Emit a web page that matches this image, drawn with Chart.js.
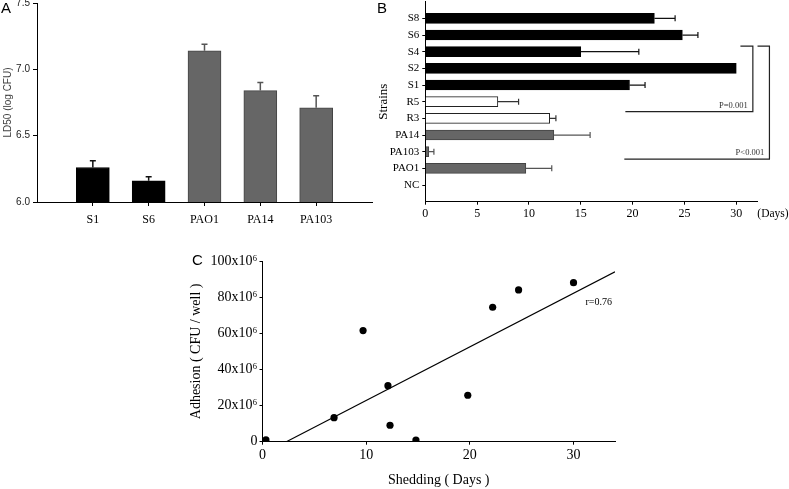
<!DOCTYPE html>
<html><head><meta charset="utf-8">
<script src="https://cdn.jsdelivr.net/npm/chart.js@4.4.1/dist/chart.umd.min.js"></script>
<style>
html,body{margin:0;padding:0;background:#fff;overflow:hidden;width:789px;height:489px;position:relative;}
canvas{position:absolute;display:block;}
.lt{position:absolute;font-family:'Liberation Sans',Arial,sans-serif;font-size:15px;line-height:15px;color:#000;}
</style></head><body>
<canvas id="cA" width="385" height="235" style="left:0;top:0;width:385px;height:235px"></canvas>
<canvas id="cB" width="419" height="235" style="left:370px;top:0;width:419px;height:235px"></canvas>
<canvas id="cC" width="460" height="254" style="left:180px;top:235px;width:460px;height:254px"></canvas>
<div class="lt" style="left:1px;top:0px">A</div>
<div class="lt" style="left:377px;top:0px">B</div>
<div class="lt" style="left:192px;top:252px">C</div>
<script>
// ---------- Panel A data ----------
const catA = ['S1', 'S6', 'PAO1', 'PA14', 'PA103'];
const valA = [6.26, 6.16, 7.14, 6.84, 6.71];
const errA = [0.05, 0.03, 0.05, 0.06, 0.09];
const groupA = ['S', 'S', 'PA', 'PA', 'PA'];
const tickLabelsA = ['6.0', '6.5', '7.0', '7.5'];

// ---------- Panel B data ----------
const catB = ['S8', 'S6', 'S4', 'S2', 'S1', 'R5', 'R3', 'PA14', 'PA103', 'PAO1', 'NC'];
const valB = [22.1, 24.8, 15.0, 30.0, 19.7, 7.0, 12.0, 12.4, 0.33, 9.7, 0];
const errB = [2.0, 1.5, 5.6, 0, 1.5, 2.0, 0.6, 3.5, 0.5, 2.5, 0];
const groupB = ['S', 'S', 'S', 'S', 'S', 'R', 'R', 'PA', 'PA', 'PA', 'NC'];
const tickLabelsB = ['0', '5', '10', '15', '20', '25', '30'];

// ---------- Panel C data ----------
const shedC = [0.33, 6.9, 9.7, 12.1, 12.3, 14.8, 19.8, 22.2, 24.7, 30.0];
const adhC = [1.0e6, 13.3e6, 61.5e6, 31.0e6, 9.1e6, 0.9e6, 25.7e6, 74.4e6, 84.0e6, 88.0e6];
const fitX = [2.3, 34];
const fitY = [0, 94e6];
const tickLabelsCY = ['0', '20x10\u2076', '40x10\u2076', '60x10\u2076', '80x10\u2076', '100x10\u2076'];
const tickLabelsCX = ['0', '10', '20', '30'];

const fill = {S: '#000', R: '#fff', PA: '#666', NC: '#fff'};
const edge = {S: '#000', R: '#222', PA: '#444', NC: '#000'};
const errCol = {S: '#111', R: '#333', PA: '#555', NC: '#000'};

Chart.defaults.font.family = "'Liberation Serif','Times New Roman',serif";
Chart.defaults.color = '#000';
Chart.defaults.animation = false;
Chart.defaults.plugins.legend.display = false;
Chart.defaults.plugins.tooltip.enabled = false;

function fixBox(w, h) {
  return function (s) {
    if (w != null) s.width = w;
    if (h != null) s.height = h;
    s.paddingTop = 0; s.paddingBottom = 0; s.paddingLeft = 0; s.paddingRight = 0;
  };
}
function pad(arr, v) { return [v, ...arr, v]; }

function makeErr(errors, groups, cap, width) {
  return {
    id: 'errBars',
    afterDatasetsDraw(chart) {
      const meta = chart.getDatasetMeta(0);
      const horiz = chart.options.indexAxis === 'y';
      const vs = horiz ? chart.scales.x : chart.scales.y;
      const data = chart.data.datasets[0].data;
      const ctx = chart.ctx;
      ctx.save();
      ctx.lineWidth = width;
      errors.forEach((e, i) => {
        const el = meta.data[i + 1];
        const v = data[i + 1];
        if (!el || v == null || !e) return;
        const end = vs.getPixelForValue(v + e);
        ctx.strokeStyle = errCol[groups[i]];
        ctx.beginPath();
        if (horiz) {
          ctx.moveTo(el.x, el.y); ctx.lineTo(end, el.y);
          ctx.moveTo(end, el.y - cap); ctx.lineTo(end, el.y + cap);
        } else {
          ctx.moveTo(el.x, el.y); ctx.lineTo(el.x, end);
          ctx.moveTo(el.x - cap, end); ctx.lineTo(el.x + cap, end);
        }
        ctx.stroke();
      });
      ctx.restore();
    }
  };
}

const hideEnds = (n) => (c) => (c.index === 0 || c.index === n - 1) ? 'rgba(0,0,0,0)' : '#000';

// ---------- Chart A ----------
new Chart(document.getElementById('cA'), {
  type: 'bar',
  data: {
    labels: pad(catA, ''),
    datasets: [{
      data: pad(valA, null),
      backgroundColor: pad(groupA.map(g => fill[g]), '#000'),
      borderColor: pad(groupA.map(g => edge[g]), '#000'),
      borderWidth: 1,
      barThickness: 33
    }]
  },
  options: {
    responsive: false,
    layout: {padding: {left: 0, top: 3, right: 13, bottom: 0}},
    scales: {
      x: {
        type: 'category', offset: false,
        grid: {display: true, drawOnChartArea: false, offset: false, tickLength: 4, tickColor: hideEnds(catA.length + 2)},
        border: {display: true, color: '#000', width: 1},
        ticks: {font: {size: 12}, padding: 7, maxRotation: 0, autoSkip: false},
        afterFit: fixBox(null, 33)
      },
      y: {
        min: 6, max: 7.5,
        ticks: {stepSize: 0.5, callback: (v, i) => tickLabelsA[i], font: {family: "'Liberation Sans',Arial,sans-serif", size: 10}, color: '#222', padding: 3},
        grid: {drawOnChartArea: false, tickLength: 4, tickColor: '#000'},
        border: {display: true, color: '#000', width: 1},
        title: {display: true, text: 'LD50 (log CFU)', font: {family: "'Liberation Sans',Arial,sans-serif", size: 10}, color: '#444', padding: {top: 2, bottom: 0}},
        afterFit: fixBox(37, null)
      }
    }
  },
  plugins: [makeErr(errA, groupA, 3, 1.5)]
});

// ---------- Chart B ----------
const bracketsB = [
  {xTop: 30.4, xV: 31.6, yTop: 2.67, yBot: 6.6, xL: 19.3, text: 'P=0.001', tx: 31.1, ty: 6.6},
  {xTop: 32.05, xV: 33.2, yTop: 2.67, yBot: 9.44, xL: 19.2, text: 'P<0.001', tx: 32.7, ty: 9.44}
];
const annotB = {
  id: 'annotB',
  afterDraw(chart) {
    const x = chart.scales.x, y = chart.scales.y, ctx = chart.ctx, a = chart.chartArea;
    ctx.save();
    ctx.strokeStyle = '#222';
    ctx.lineWidth = 1.2;
    bracketsB.forEach(b => {
      ctx.beginPath();
      ctx.moveTo(x.getPixelForValue(b.xTop), y.getPixelForValue(b.yTop));
      ctx.lineTo(x.getPixelForValue(b.xV), y.getPixelForValue(b.yTop));
      ctx.lineTo(x.getPixelForValue(b.xV), y.getPixelForValue(b.yBot));
      ctx.lineTo(x.getPixelForValue(b.xL), y.getPixelForValue(b.yBot));
      ctx.stroke();
      ctx.fillStyle = '#333';
      ctx.font = "8.5px 'Liberation Serif','Times New Roman',serif";
      ctx.textAlign = 'right';
      ctx.textBaseline = 'bottom';
      ctx.fillText(b.text, x.getPixelForValue(b.tx), y.getPixelForValue(b.ty) - 2);
    });
    ctx.fillStyle = '#000';
    ctx.font = "11.5px 'Liberation Serif','Times New Roman',serif";
    ctx.textAlign = 'center';
    ctx.textBaseline = 'middle';
    ctx.fillText('(Days)', a.right + 16, a.bottom + 12);
    ctx.restore();
  }
};
new Chart(document.getElementById('cB'), {
  type: 'bar',
  data: {
    labels: pad(catB, ''),
    datasets: [{
      data: pad(valB, null),
      backgroundColor: pad(groupB.map(g => fill[g]), '#000'),
      borderColor: pad(groupB.map(g => edge[g]), '#000'),
      borderWidth: 1,
      barThickness: 10
    }]
  },
  options: {
    responsive: false,
    indexAxis: 'y',
    layout: {padding: {left: 0, top: 1.7, right: 32, bottom: 0}},
    scales: {
      y: {
        type: 'category', offset: false,
        grid: {display: true, drawOnChartArea: false, offset: false, tickLength: 3, tickColor: hideEnds(catB.length + 2)},
        border: {display: true, color: '#000', width: 1},
        ticks: {font: {size: 11}, padding: 3, autoSkip: false},
        title: {display: true, text: 'Strains', font: {size: 13}, padding: {top: 5.5, bottom: 0}},
        afterFit: fixBox(55.3, null)
      },
      x: {
        type: 'linear', min: 0, max: 32,
        ticks: {stepSize: 5, includeBounds: false, callback: (v, i) => tickLabelsB[i], font: {size: 12}, padding: 2, maxRotation: 0},
        grid: {drawOnChartArea: false, tickLength: 3, tickColor: '#000'},
        border: {display: true, color: '#000', width: 1},
        afterFit: fixBox(null, 33.3)
      }
    }
  },
  plugins: [makeErr(errB, groupB, 3, 1.2), annotB]
});

// ---------- Chart C ----------
const annotC = {
  id: 'annotC',
  afterDraw(chart) {
    const x = chart.scales.x, y = chart.scales.y, ctx = chart.ctx;
    ctx.save();
    ctx.fillStyle = '#000';
    ctx.font = "10px 'Liberation Serif','Times New Roman',serif";
    ctx.textAlign = 'right';
    ctx.textBaseline = 'middle';
    ctx.fillText('r=0.76', x.getPixelForValue(33.7), y.getPixelForValue(77e6));
    ctx.restore();
  }
};
new Chart(document.getElementById('cC'), {
  type: 'scatter',
  data: {
    datasets: [
      {data: shedC.map((v, i) => ({x: v, y: adhC[i]})), pointRadius: 3.6, pointBorderWidth: 0, backgroundColor: '#000', borderColor: '#000', showLine: false},
      {data: fitX.map((v, i) => ({x: v, y: fitY[i]})), showLine: true, pointRadius: 0, borderColor: '#000', borderWidth: 1.2}
    ]
  },
  options: {
    responsive: false,
    layout: {padding: {left: 0, top: 26, right: 25, bottom: 0}},
    scales: {
      x: {
        min: 0, max: 34,
        ticks: {stepSize: 10, includeBounds: false, callback: (v, i) => tickLabelsCX[i], font: {size: 14}, padding: 2, maxRotation: 0},
        grid: {drawOnChartArea: false, tickLength: 3, tickColor: '#000'},
        border: {display: true, color: '#000', width: 1},
        title: {display: true, text: 'Shedding ( Days )', font: {size: 14}, padding: {top: 0, bottom: 0}},
        afterFit: fixBox(null, 47.3)
      },
      y: {
        min: 0, max: 100e6,
        ticks: {stepSize: 20e6, callback: (v, i) => tickLabelsCY[i], font: {size: 14}, padding: 2},
        grid: {drawOnChartArea: false, tickLength: 3, tickColor: '#000'},
        border: {display: true, color: '#000', width: 1},
        title: {display: true, text: 'Adhesion ( CFU / well )', font: {size: 14}, padding: {top: 7.6, bottom: 0}},
        afterFit: fixBox(82.5, null)
      }
    }
  },
  plugins: [annotC]
});
</script>
</body></html>
